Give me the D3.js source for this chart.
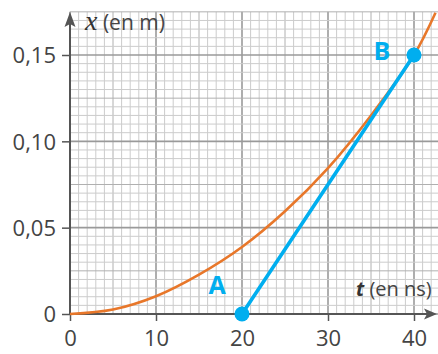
<!DOCTYPE html>
<html>
<head>
<meta charset="utf-8">
<script src="https://cdn.jsdelivr.net/npm/d3@7"></script>
<style>
  html, body { margin: 0; padding: 0; background: #fff; }
  svg { display: block; }
  .tick text { font-family: "Open Sans", "Noto Sans", sans-serif; fill: #444; }
</style>
</head>
<body>
<svg id="chart" width="438" height="354"></svg>
<script>
// Position x (m) of the moving object versus time t (ns)
const curveT = [0, 5, 10, 15, 20, 25, 30, 35, 40, 42.5];
const curveX = [0, 0.0026, 0.0103, 0.0228, 0.0388, 0.0595, 0.0845, 0.1150, 0.1500, 0.1745];

// Tangent segment from A to B
const pointNames = ["A", "B"];
const pointT = [20, 40];
const pointX = [0, 0.15];

// Axis ticks
const tTicks = [0, 10, 20, 30, 40];
const xTicks = [0, 0.05, 0.10, 0.15];

const svg = d3.select("#chart");

const x = d3.scaleLinear().domain([0, 40]).range([70, 414]);
const y = d3.scaleLinear().domain([0, 0.15]).range([314, 55]);

const tGridMax = 42.8;   // grid runs to the right edge
const xGridMax = 0.175;  // top grid line

const ORANGE = "#e8772a";
const BLUE = "#00aeef";
const AXIS = "#555";

// ---- graph paper grid ----
const gridColor = d => d % 10 === 0 ? "#9a9a9a" : d % 5 === 0 ? "#b0b0b0" : "#cccccc";
const gridWidth = d => d % 10 === 0 ? 1.6 : 1;

const grid = svg.append("g");
const vLines = d3.range(0, 43, 1);
grid.selectAll("line.v").data(vLines).join("line")
  .attr("x1", d => x(d)).attr("x2", d => x(d))
  .attr("y1", y(0)).attr("y2", y(xGridMax))
  .attr("stroke", gridColor)
  .attr("stroke-width", gridWidth);

const hSteps = d3.range(0, 36, 1); // steps of 0.005 m
grid.selectAll("line.h").data(hSteps).join("line")
  .attr("x1", x(0)).attr("x2", x(tGridMax))
  .attr("y1", d => y(d * 0.005)).attr("y2", d => y(d * 0.005))
  .attr("stroke", gridColor)
  .attr("stroke-width", gridWidth);

// ---- axes ----
const commaFmt = d3.formatLocale({ decimal: ",", thousands: " ", grouping: [3], currency: ["", ""] }).format(".2f");

const xAxis = d3.axisBottom(x).tickValues(tTicks).tickSize(7).tickPadding(4)
  .tickFormat(d => String(d));
const gx = svg.append("g").attr("transform", `translate(0,${y(0)})`).call(xAxis);
gx.select(".domain").remove();
gx.selectAll(".tick line").attr("stroke", AXIS).attr("stroke-width", 1.5);
gx.selectAll(".tick text").attr("font-size", 22).attr("dy", "0.95em");

const yAxis = d3.axisLeft(y).tickValues(xTicks).tickSize(8).tickPadding(6)
  .tickFormat(d => d === 0 ? "0" : commaFmt(d));
const gy = svg.append("g").attr("transform", `translate(${x(0)},0)`).call(yAxis);
gy.select(".domain").remove();
gy.selectAll(".tick line").attr("stroke", AXIS).attr("stroke-width", 1.5);
gy.selectAll(".tick text").attr("font-size", 22).attr("dy", "0.36em");

// axis lines with arrow heads
svg.append("line")
  .attr("x1", x(0)).attr("x2", 428).attr("y1", y(0)).attr("y2", y(0))
  .attr("stroke", AXIS).attr("stroke-width", 2);
svg.append("path")
  .attr("d", `M437,${y(0)} L424,${y(0) - 5.5} L427,${y(0)} L424,${y(0) + 5.5} Z`)
  .attr("fill", AXIS);

svg.append("line")
  .attr("x1", x(0)).attr("x2", x(0)).attr("y1", y(0)).attr("y2", 22)
  .attr("stroke", AXIS).attr("stroke-width", 2);
svg.append("path")
  .attr("d", `M${x(0)},12 L${x(0) - 5.5},27 L${x(0)},24 L${x(0) + 5.5},27 Z`)
  .attr("fill", AXIS);

// axis titles
const yTitle = svg.append("text").attr("x", 85).attr("y", 30)
  .attr("font-family", "'Open Sans', 'Noto Sans', sans-serif").attr("font-size", 21).attr("fill", "#444");
yTitle.append("tspan").text("x").attr("font-family", "'Liberation Serif', 'DejaVu Serif', serif")
  .attr("font-style", "italic").attr("font-size", 28).attr("fill", "#333");
yTitle.append("tspan").text(" (en m)");

const xTitle = svg.append("text").attr("x", 356).attr("y", 296)
  .attr("font-family", "'Open Sans', 'Noto Sans', sans-serif").attr("font-size", 20).attr("fill", "#444");
xTitle.append("tspan").text("t").attr("font-style", "italic").attr("font-weight", "bold").attr("fill", "#333");
xTitle.append("tspan").text(" (en ns)");

// ---- curve x(t) ----
const curveData = curveT.map((t, i) => ({ t, x: curveX[i] }));
svg.append("path")
  .datum(curveData)
  .attr("fill", "none")
  .attr("stroke", ORANGE)
  .attr("stroke-width", 2.6)
  .attr("d", d3.line().x(d => x(d.t)).y(d => y(d.x)).curve(d3.curveCatmullRom));

// ---- tangent AB ----
const pts = pointNames.map((n, i) => ({ name: n, t: pointT[i], x: pointX[i] }));
svg.append("line")
  .attr("x1", x(pts[0].t)).attr("y1", y(pts[0].x))
  .attr("x2", x(pts[1].t)).attr("y2", y(pts[1].x))
  .attr("stroke", BLUE).attr("stroke-width", 3.6).attr("stroke-linecap", "round");

svg.selectAll("circle.pt").data(pts).join("circle")
  .attr("cx", d => x(d.t)).attr("cy", d => y(d.x)).attr("r", 7.5)
  .attr("fill", BLUE);

const labelOffset = { A: [-25, -30], B: [-32, -5] };
svg.selectAll("text.pt").data(pts).join("text")
  .attr("x", d => x(d.t) + labelOffset[d.name][0])
  .attr("y", d => y(d.x) + labelOffset[d.name][1])
  .attr("font-family", "'Open Sans', 'Noto Sans', sans-serif")
  .attr("font-weight", "bold").attr("font-size", 25)
  .attr("fill", BLUE)
  .attr("text-anchor", "middle")
  .attr("dominant-baseline", "central")
  .text(d => d.name);
</script>
</body>
</html>
